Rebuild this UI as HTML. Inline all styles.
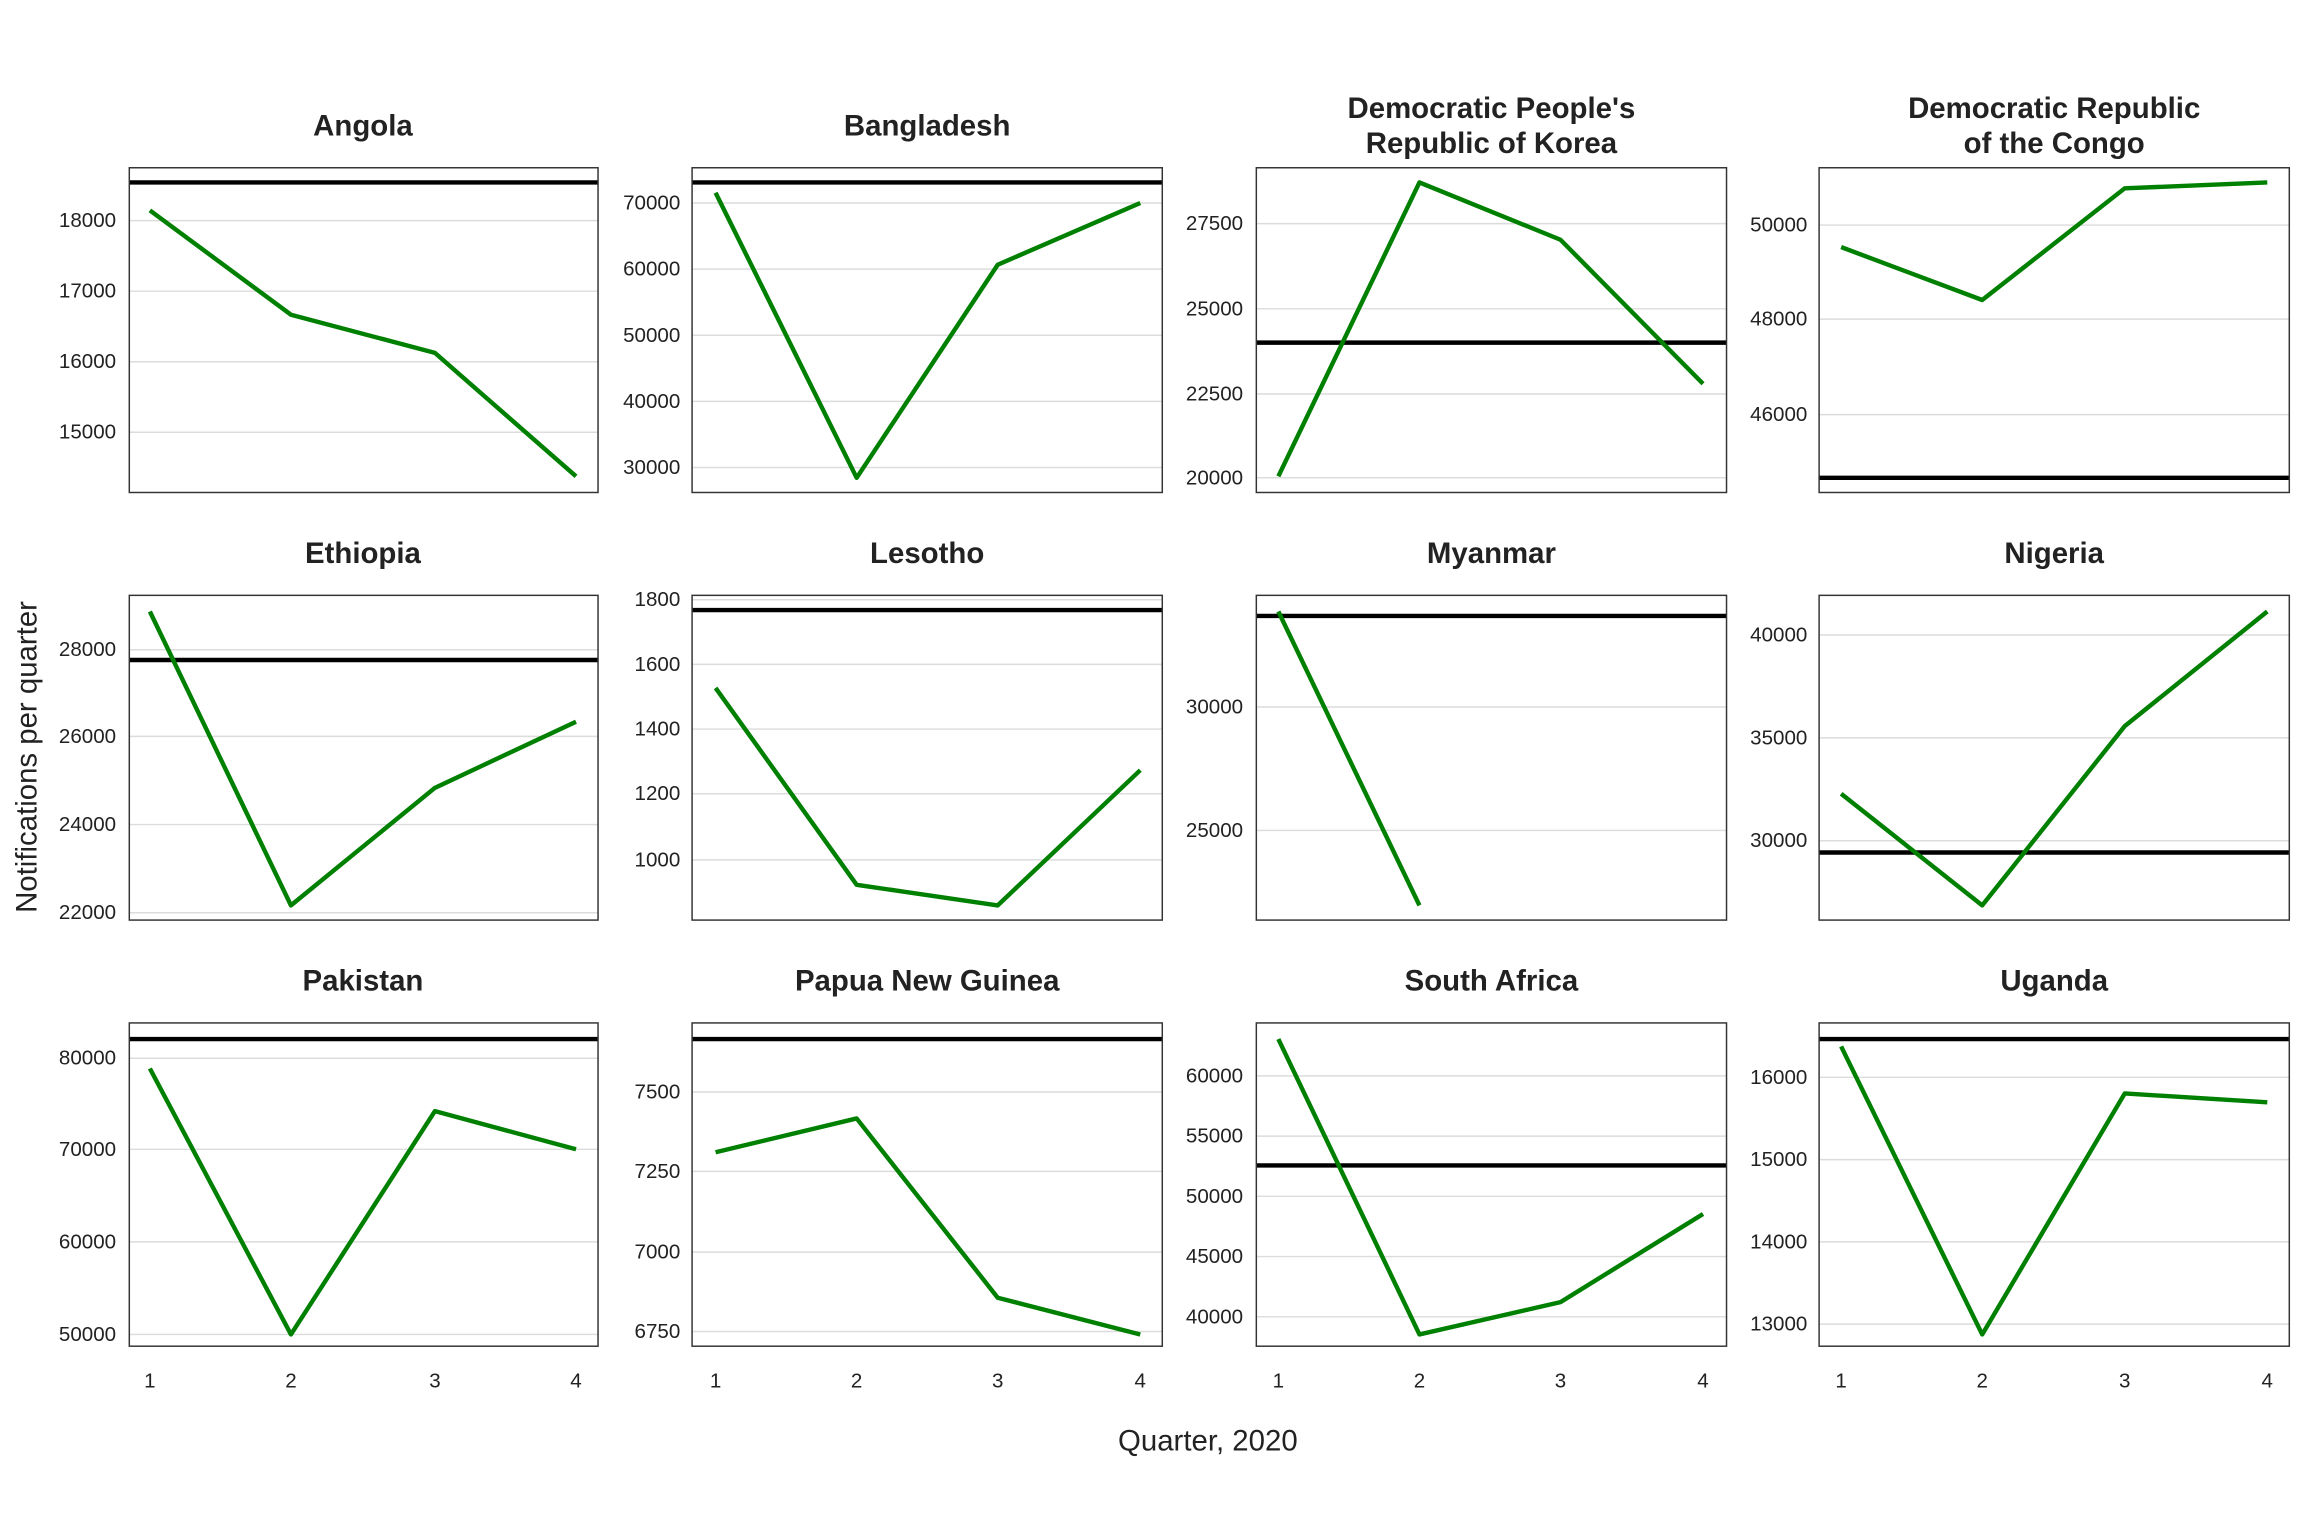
<!DOCTYPE html>
<html><head><meta charset="utf-8"><style>html,body{margin:0;padding:0;background:#fff}svg{display:block}</style></head><body>
<svg width="2304" height="1536" viewBox="0 0 1568 1045" xmlns="http://www.w3.org/2000/svg" font-family="Liberation Sans, Arial, sans-serif">
<rect width="1568" height="1045" fill="#fff"/>
<g stroke="#dcdcdc" stroke-width="1">
<line x1="88" x2="407" y1="150" y2="150"/><line x1="88" x2="407" y1="198" y2="198"/><line x1="88" x2="407" y1="246" y2="246"/><line x1="88" x2="407" y1="294" y2="294"/>
<line x1="471" x2="791" y1="138" y2="138"/><line x1="471" x2="791" y1="183" y2="183"/><line x1="471" x2="791" y1="228" y2="228"/><line x1="471" x2="791" y1="273" y2="273"/><line x1="471" x2="791" y1="318" y2="318"/>
<line x1="855" x2="1175" y1="152" y2="152"/><line x1="855" x2="1175" y1="210" y2="210"/><line x1="855" x2="1175" y1="268" y2="268"/><line x1="855" x2="1175" y1="325" y2="325"/>
<line x1="1238" x2="1558" y1="153" y2="153"/><line x1="1238" x2="1558" y1="217" y2="217"/><line x1="1238" x2="1558" y1="282" y2="282"/>
<line x1="88" x2="407" y1="442" y2="442"/><line x1="88" x2="407" y1="501" y2="501"/><line x1="88" x2="407" y1="561" y2="561"/><line x1="88" x2="407" y1="621" y2="621"/>
<line x1="471" x2="791" y1="408" y2="408"/><line x1="471" x2="791" y1="452" y2="452"/><line x1="471" x2="791" y1="496" y2="496"/><line x1="471" x2="791" y1="540" y2="540"/><line x1="471" x2="791" y1="585" y2="585"/>
<line x1="855" x2="1175" y1="481" y2="481"/><line x1="855" x2="1175" y1="565" y2="565"/>
<line x1="1238" x2="1558" y1="432" y2="432"/><line x1="1238" x2="1558" y1="502" y2="502"/><line x1="1238" x2="1558" y1="572" y2="572"/>
<line x1="88" x2="407" y1="720" y2="720"/><line x1="88" x2="407" y1="782" y2="782"/><line x1="88" x2="407" y1="845" y2="845"/><line x1="88" x2="407" y1="908" y2="908"/>
<line x1="471" x2="791" y1="743" y2="743"/><line x1="471" x2="791" y1="797" y2="797"/><line x1="471" x2="791" y1="852" y2="852"/><line x1="471" x2="791" y1="906" y2="906"/>
<line x1="855" x2="1175" y1="732" y2="732"/><line x1="855" x2="1175" y1="773" y2="773"/><line x1="855" x2="1175" y1="814" y2="814"/><line x1="855" x2="1175" y1="855" y2="855"/><line x1="855" x2="1175" y1="896" y2="896"/>
<line x1="1238" x2="1558" y1="733" y2="733"/><line x1="1238" x2="1558" y1="789" y2="789"/><line x1="1238" x2="1558" y1="845" y2="845"/><line x1="1238" x2="1558" y1="901" y2="901"/>
</g>
<g stroke="#000" stroke-width="3">
<line x1="88" x2="407" y1="124" y2="124"/><line x1="471" x2="791" y1="124" y2="124"/><line x1="855" x2="1175" y1="233" y2="233"/><line x1="1238" x2="1558" y1="325" y2="325"/>
<line x1="88" x2="407" y1="449" y2="449"/><line x1="471" x2="791" y1="415" y2="415"/><line x1="855" x2="1175" y1="419" y2="419"/><line x1="1238" x2="1558" y1="580" y2="580"/>
<line x1="88" x2="407" y1="707" y2="707"/><line x1="471" x2="791" y1="707" y2="707"/><line x1="855" x2="1175" y1="793" y2="793"/><line x1="1238" x2="1558" y1="707" y2="707"/>
</g>
<g fill="none" stroke="#008000" stroke-width="3" stroke-linejoin="round">
<polyline points="102,143 198,214 296,240 392,324"/>
<polyline points="487,131 583,325 679,180 776,138"/>
<polyline points="870,324 966,124 1062,163 1159,261"/>
<polyline points="1253,168 1349,204 1446,128 1543,124"/>
<polyline points="102,416 198,616 296,536 392,491"/>
<polyline points="487,468 583,602 679,616 776,524"/>
<polyline points="870,416 966,616"/>
<polyline points="1253,540 1349,616 1446,494 1543,416"/>
<polyline points="102,727 198,908 296,756 392,782"/>
<polyline points="487,784 583,761 679,883 776,908"/>
<polyline points="870,707 966,908 1062,886 1159,826"/>
<polyline points="1253,712 1349,908 1446,744 1543,750"/>
</g>
<g fill="none" stroke="#333" stroke-width="1">
<rect x="88" y="114" width="319" height="221"/><rect x="471" y="114" width="320" height="221"/><rect x="855" y="114" width="320" height="221"/><rect x="1238" y="114" width="320" height="221"/>
<rect x="88" y="405" width="319" height="221"/><rect x="471" y="405" width="320" height="221"/><rect x="855" y="405" width="320" height="221"/><rect x="1238" y="405" width="320" height="221"/>
<rect x="88" y="696" width="319" height="220"/><rect x="471" y="696" width="320" height="220"/><rect x="855" y="696" width="320" height="220"/><rect x="1238" y="696" width="320" height="220"/>
</g>
<g font-size="14" fill="#222" text-anchor="end" dominant-baseline="central">
<text x="79" y="150">18000</text><text x="79" y="198">17000</text><text x="79" y="246">16000</text><text x="79" y="294">15000</text>
<text x="463" y="138">70000</text><text x="463" y="183">60000</text><text x="463" y="228">50000</text><text x="463" y="273">40000</text><text x="463" y="318">30000</text>
<text x="846" y="152">27500</text><text x="846" y="210">25000</text><text x="846" y="268">22500</text><text x="846" y="325">20000</text>
<text x="1230" y="153">50000</text><text x="1230" y="217">48000</text><text x="1230" y="282">46000</text>
<text x="79" y="442">28000</text><text x="79" y="501">26000</text><text x="79" y="561">24000</text><text x="79" y="621">22000</text>
<text x="463" y="408">1800</text><text x="463" y="452">1600</text><text x="463" y="496">1400</text><text x="463" y="540">1200</text><text x="463" y="585">1000</text>
<text x="846" y="481">30000</text><text x="846" y="565">25000</text>
<text x="1230" y="432">40000</text><text x="1230" y="502">35000</text><text x="1230" y="572">30000</text>
<text x="79" y="720">80000</text><text x="79" y="782">70000</text><text x="79" y="845">60000</text><text x="79" y="908">50000</text>
<text x="463" y="743">7500</text><text x="463" y="797">7250</text><text x="463" y="852">7000</text><text x="463" y="906">6750</text>
<text x="846" y="732">60000</text><text x="846" y="773">55000</text><text x="846" y="814">50000</text><text x="846" y="855">45000</text><text x="846" y="896">40000</text>
<text x="1230" y="733">16000</text><text x="1230" y="789">15000</text><text x="1230" y="845">14000</text><text x="1230" y="901">13000</text>
</g>
<g font-size="14" fill="#222" text-anchor="middle">
<text x="102" y="944">1</text><text x="198" y="944">2</text><text x="296" y="944">3</text><text x="392" y="944">4</text>
<text x="487" y="944">1</text><text x="583" y="944">2</text><text x="679" y="944">3</text><text x="776" y="944">4</text>
<text x="870" y="944">1</text><text x="966" y="944">2</text><text x="1062" y="944">3</text><text x="1159" y="944">4</text>
<text x="1253" y="944">1</text><text x="1349" y="944">2</text><text x="1446" y="944">3</text><text x="1543" y="944">4</text>
</g>
<g font-size="20" font-weight="bold" fill="#222" text-anchor="middle">
<text x="247" y="92">Angola</text><text x="631" y="92">Bangladesh</text>
<text x="1015" y="80">Democratic People's</text><text x="1015" y="104">Republic of Korea</text>
<text x="1398" y="80">Democratic Republic</text><text x="1398" y="104">of the Congo</text>
<text x="247" y="383">Ethiopia</text><text x="631" y="383">Lesotho</text><text x="1015" y="383">Myanmar</text><text x="1398" y="383">Nigeria</text>
<text x="247" y="674">Pakistan</text><text x="631" y="674">Papua New Guinea</text><text x="1015" y="674">South Africa</text><text x="1398" y="674">Uganda</text>
</g>
<text x="822" y="987" font-size="20" fill="#222" text-anchor="middle">Quarter, 2020</text>
<text transform="translate(25,515) rotate(-90)" font-size="20" fill="#222" text-anchor="middle">Notifications per quarter</text>
</svg>
</body></html>
